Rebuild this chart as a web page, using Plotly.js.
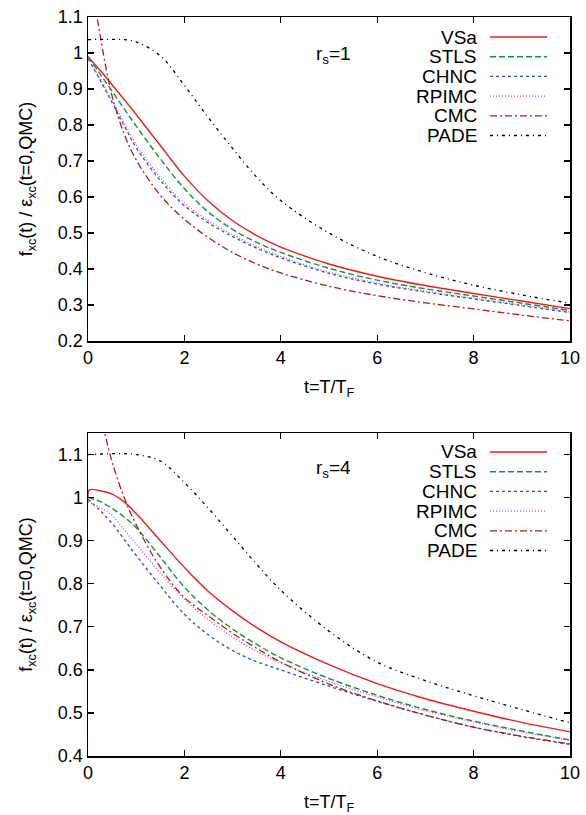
<!DOCTYPE html>
<html><head><meta charset="utf-8">
<script src="https://cdn.plot.ly/plotly-3.0.1.min.js"></script>
<style>html,body{margin:0;padding:0;background:#fff}</style>
</head><body><div id="chart" style="width:586px;height:815px"></div>
<script>
// ---------- data ----------
const seriesNames = ['VSa', 'STLS', 'CHNC', 'RPIMC', 'CMC', 'PADE'];
const panelLabels = ['r<sub>s</sub>=1', 'r<sub>s</sub>=4'];
const xTickVals = [0, 2, 4, 6, 8, 10];

const t = [0, 0.25, 0.5, 0.75, 1, 1.5, 2, 2.5, 3, 3.5, 4, 5, 6, 7, 8, 9, 10];
const tCMC1 = [0.15, 0.2, 0.25, 0.35, 0.5, 0.75, 1, 1.5, 2, 2.5, 3, 3.5, 4, 5, 6, 7, 8, 9, 10];
const tCMC4 = [0.3, 0.35, 0.5, 0.75, 1, 1.5, 2, 2.5, 3, 3.5, 4, 5, 6, 7, 8, 9, 10];
const tVSa4 = [0, 0.03, 0.25, 0.5, 0.75, 1, 1.5, 2, 2.5, 3, 3.5, 4, 5, 6, 7, 8, 9, 10];

// r_s = 1
const vsa1   = [0.99, 0.952, 0.912, 0.871, 0.829, 0.743, 0.658, 0.588, 0.534, 0.493, 0.461, 0.414, 0.38, 0.354, 0.332, 0.311, 0.29];
const stls1  = [0.99, 0.942, 0.894, 0.845, 0.797, 0.706, 0.623, 0.558, 0.51, 0.474, 0.446, 0.402, 0.369, 0.345, 0.325, 0.305, 0.285];
const chnc1  = [0.985, 0.925, 0.862, 0.798, 0.737, 0.646, 0.576, 0.528, 0.49, 0.458, 0.431, 0.388, 0.358, 0.336, 0.317, 0.298, 0.279];
const rpimc1 = [0.985, 0.928, 0.868, 0.806, 0.746, 0.654, 0.583, 0.534, 0.495, 0.462, 0.435, 0.391, 0.361, 0.338, 0.319, 0.3, 0.281];
const cmc1   = [1.135, 1.09, 1.05, 0.975, 0.88, 0.775, 0.703, 0.605, 0.538, 0.487, 0.446, 0.414, 0.389, 0.352, 0.326, 0.306, 0.289, 0.272, 0.256];
const pade1  = [1.037, 1.038, 1.038, 1.037, 1.031, 0.992, 0.91, 0.82, 0.735, 0.655, 0.59, 0.5, 0.435, 0.39, 0.355, 0.328, 0.305];

// r_s = 4
const vsa4   = [1.0, 1.018, 1.016, 1.008, 0.99, 0.963, 0.9, 0.838, 0.782, 0.737, 0.698, 0.665, 0.612, 0.568, 0.533, 0.504, 0.478, 0.456];
const stls4  = [1.0, 0.991, 0.975, 0.955, 0.93, 0.862, 0.792, 0.738, 0.695, 0.659, 0.628, 0.58, 0.541, 0.508, 0.481, 0.458, 0.437];
const chnc4  = [0.996, 0.97, 0.94, 0.903, 0.866, 0.795, 0.729, 0.681, 0.645, 0.619, 0.6, 0.562, 0.527, 0.495, 0.467, 0.445, 0.427];
const rpimc4 = [0.99, 0.977, 0.958, 0.926, 0.892, 0.825, 0.764, 0.716, 0.676, 0.643, 0.616, 0.573, 0.537, 0.505, 0.479, 0.456, 0.436];
const cmc4   = [1.17, 1.148, 1.083, 1.0, 0.937, 0.838, 0.768, 0.725, 0.685, 0.65, 0.618, 0.567, 0.528, 0.495, 0.467, 0.446, 0.428];
const pade4  = [1.1, 1.101, 1.102, 1.102, 1.1, 1.085, 1.035, 0.975, 0.91, 0.845, 0.785, 0.69, 0.618, 0.575, 0.54, 0.508, 0.477];

// ---------- styles ----------
const colors = ['#ee1c1c', '#13923a', '#2c4fc0', '#cc3fbf', '#a81e22', '#000000'];
const dashes = ['solid', '6px,3px', '3px,3px', '1px,2px', '7px,3px,2px,3px', '3px,4px,1px,4px'];
const widths = [1.4, 1.4, 1.3, 1.3, 1.3, 1.3];

const panels = [
  {xs: [t, t, t, t, tCMC1, t], ys: [vsa1, stls1, chnc1, rpimc1, cmc1, pade1], xa: 'x', ya: 'y'},
  {xs: [tVSa4, t, t, t, tCMC4, t], ys: [vsa4, stls4, chnc4, rpimc4, cmc4, pade4], xa: 'x2', ya: 'y2'}
];

const traces = [];
panels.forEach(p => {
  seriesNames.forEach((n, i) => {
    traces.push({
      x: p.xs[i], y: p.ys[i], name: n, mode: 'lines', type: 'scatter',
      xaxis: p.xa, yaxis: p.ya, showlegend: false, cliponaxis: true,
      line: {color: colors[i], dash: dashes[i], width: widths[i], shape: 'spline', smoothing: 1}
    });
  });
});

// geometry (pixels)
const W = 586, H = 815, mL = 88, mR = 16, mT = 17, mB = 59;
const pw = W - mL - mR, ph = H - mT - mB;
const px2x = px => (px - mL) / pw;
const py2y = py => (H - mB - py) / ph;

const fam = 'Liberation Sans, Arial, Helvetica, sans-serif';
const font = {family: fam, size: 18, color: '#000'};
const legFont = {family: fam, size: 19, color: '#000'};
function xaxis(anchor) {
  return {
    anchor: anchor, range: [0, 10], tickvals: xTickVals, ticks: 'inside', ticklen: 6,
    tickwidth: 1.3, tickcolor: '#000', showline: true, linecolor: '#000', linewidth: 1.5,
    mirror: 'allticks', showgrid: false, zeroline: false, tickfont: font, domain: [0, 1],
    title: {text: 't=T/T<sub>F</sub>', font: font, standoff: 13}
  };
}
function yaxis(anchor, range, domain) {
  return {
    anchor: anchor, range: range, dtick: 0.1, tick0: 0, ticks: 'inside', ticklen: 6,
    tickwidth: 1.3, tickcolor: '#000', showline: true, linecolor: '#000', linewidth: 1.5,
    mirror: 'allticks', showgrid: false, zeroline: false, tickfont: font, domain: domain,
    title: {text: 'f<sub>xc</sub>(t) / ε<sub>xc</sub>(t=0,QMC)', font: font, standoff: 20}
  };
}

const topDom = [py2y(341), 1];
const botDom = [0, py2y(433)];

const annotations = [], shapes = [];
const legendTop = [37, 452];
const labelY = [55, 469];
[0, 1].forEach(k => {
  annotations.push({xref: 'paper', yref: 'paper', x: px2x(333), y: py2y(labelY[k]),
    text: panelLabels[k], showarrow: false, font: legFont, xanchor: 'center', yanchor: 'middle'});
  seriesNames.forEach((n, i) => {
    const py = legendTop[k] + i * 19.7;
    annotations.push({xref: 'paper', yref: 'paper', x: px2x(479), y: py2y(py),
      text: n, showarrow: false, font: legFont, xanchor: 'right', yanchor: 'middle'});
    shapes.push({type: 'line', xref: 'paper', yref: 'paper',
      x0: px2x(490), x1: px2x(547), y0: py2y(py), y1: py2y(py),
      line: {color: colors[i], dash: dashes[i], width: widths[i]}});
  });
});

const layout = {
  width: W, height: H, margin: {l: mL, r: mR, t: mT, b: mB},
  paper_bgcolor: '#fff', plot_bgcolor: '#fff', font: font, showlegend: false,
  xaxis: xaxis('y'),
  yaxis: yaxis('x', [0.2, 1.1], topDom),
  xaxis2: xaxis('y2'),
  yaxis2: yaxis('x2', [0.4, 1.15], botDom),
  annotations: annotations, shapes: shapes
};

Plotly.newPlot('chart', traces, layout, {displayModeBar: false, staticPlot: true});
</script></body></html>
